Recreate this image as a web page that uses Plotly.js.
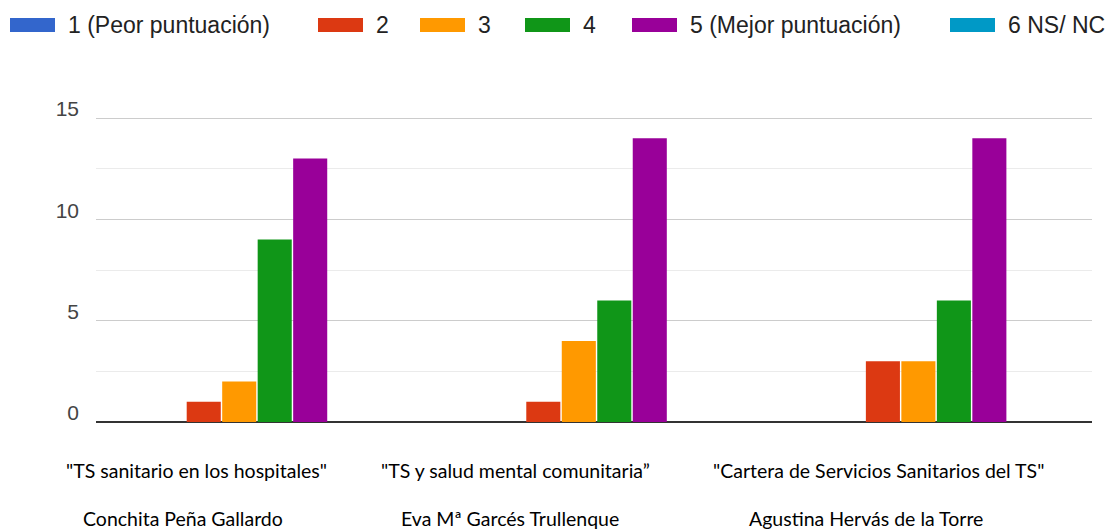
<!DOCTYPE html>
<html>
<head>
<meta charset="utf-8">
<script src="https://cdn.plot.ly/plotly-3.0.1.min.js"></script>
<style>html,body{margin:0;padding:0;background:#fff;}#chart{width:1109px;height:529px;}</style>
</head>
<body>
<div id="chart"></div>
<script>
const categories = ["Charla 1", "Charla 2", "Charla 3"];
const talkTitles = ['"TS sanitario en los hospitales"', '"TS y salud mental comunitaria\u201D', '"Cartera de Servicios Sanitarios del TS"'];
const speakers = ["Conchita Peña Gallardo", "Eva Mª Garcés Trullenque", "Agustina Hervás de la Torre"];
const seriesNames = ["1 (Peor puntuación)", "2", "3", "4", "5 (Mejor puntuación)", "6 NS/ NC"];
const score1 = [0, 0, 0];
const score2 = [1, 1, 3];
const score3 = [2, 4, 3];
const score4 = [9, 6, 6];
const score5 = [13, 14, 14];
const score6 = [0, 0, 0];
const yTicks = [0, 5, 10, 15];

const colors = ["#3366cc", "#dc3912", "#ff9900", "#109618", "#990099", "#0099c6"];
const allScores = [score1, score2, score3, score4, score5, score6];

const W = 1109, H = 529;
const M = {l: 96, r: 17, t: 117, b: 107};
const PW = W - M.l - M.r, PH = H - M.t - M.b;
const px2x = p => (p - M.l) / PW;
const px2y = p => (H - M.b - p) / PH;

const traces = allScores.map((vals, i) => ({
  type: "bar",
  name: seriesNames[i],
  x: [0, 1, 2],
  y: vals,
  marker: {color: colors[i]},
  hoverinfo: "y+name",
  showlegend: false
}));

const annotations = [];
const shapes = [];
const titleCx = [196, 515, 878];
const nameCx = [183, 510, 866];
talkTitles.forEach((t, i) => annotations.push({
  text: t, xref: "paper", yref: "paper", x: px2x(titleCx[i]), y: px2y(470),
  xanchor: "center", yanchor: "middle", showarrow: false,
  font: {family: "Lato, sans-serif", size: 19.5, color: "#000"}
}));
speakers.forEach((t, i) => annotations.push({
  text: t, xref: "paper", yref: "paper", x: px2x(nameCx[i]), y: px2y(518),
  xanchor: "center", yanchor: "middle", showarrow: false,
  font: {family: "Lato, sans-serif", size: 19.5, color: "#000"}
}));

// legend (drawn as swatches + labels)
const swatchLeft = [10, 318, 420, 525, 632, 950];
seriesNames.forEach((nm, i) => {
  shapes.push({
    type: "rect", xref: "paper", yref: "paper", layer: "above",
    x0: px2x(swatchLeft[i]), x1: px2x(swatchLeft[i] + 45),
    y0: px2y(32), y1: px2y(18),
    fillcolor: colors[i], line: {width: 0}
  });
  annotations.push({
    text: nm, xref: "paper", yref: "paper",
    x: px2x(swatchLeft[i] + 56), y: px2y(25),
    xanchor: "left", yanchor: "middle", showarrow: false,
    font: {family: "Liberation Sans, Arial, sans-serif", size: 23, color: "#222"}
  });
});

const layout = {
  width: W, height: H,
  margin: M,
  paper_bgcolor: "#fff", plot_bgcolor: "#fff",
  font: {family: "Liberation Sans, Arial, sans-serif", size: 22, color: "#444"},
  barmode: "group",
  bargap: 0.373,
  bargroupgap: 0.04,
  showlegend: false,
  xaxis: {
    range: [-0.474, 2.459],
    showticklabels: false, showgrid: false, zeroline: false,
    showline: false, ticks: "", fixedrange: true
  },
  yaxis: {
    range: [0, 15.05],
    tickvals: yTicks, ticktext: yTicks.map(String),
    showgrid: true, gridcolor: "#cccccc", gridwidth: 1,
    minor: {dtick: 2.5, showgrid: true, gridcolor: "#ebebeb", gridwidth: 1},
    zeroline: true, zerolinecolor: "#333333", zerolinewidth: 1.5,
    showline: false, ticks: "", ticklabelstandoff: 16, ticklabelshift: -9,
    tickfont: {family: "Liberation Sans, Arial, sans-serif", size: 21, color: "#444"},
    fixedrange: true
  },
  shapes: shapes,
  annotations: annotations
};

Plotly.newPlot("chart", traces, layout, {displayModeBar: false, staticPlot: true});
</script>
</body>
</html>
